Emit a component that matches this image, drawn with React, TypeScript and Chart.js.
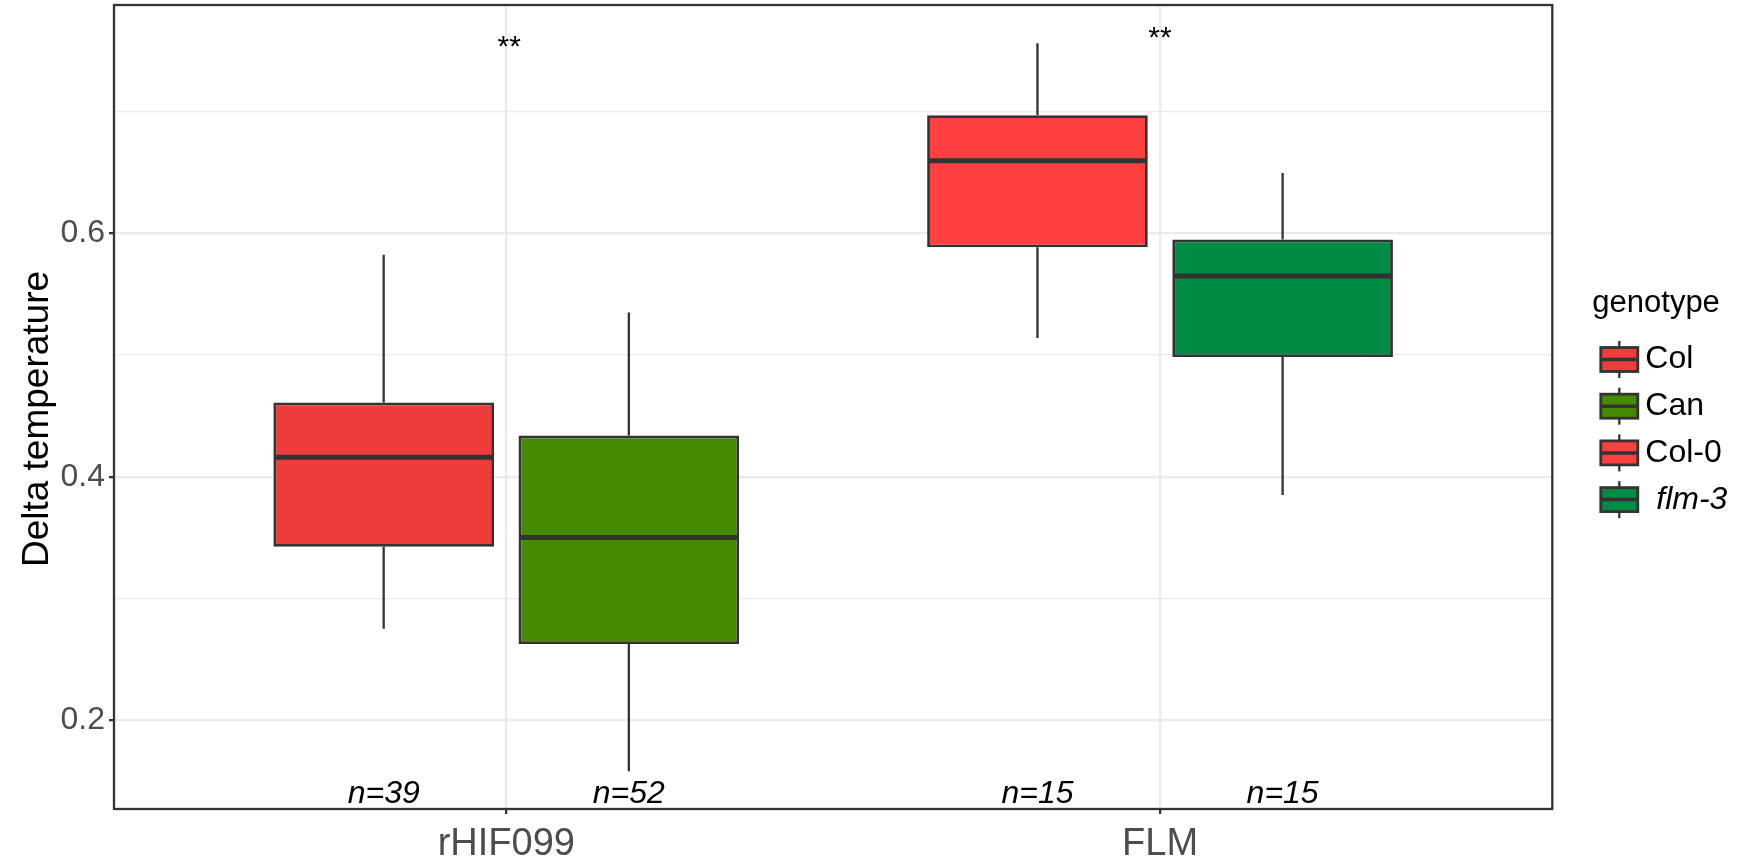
import React, { useEffect, useRef } from 'react';
import { Chart, registerables } from 'chart.js';

Chart.register(...registerables);

// ---- data ----
const categories = ['rHIF099', 'FLM'];
const genotypes = ['Col', 'Can', 'Col-0', 'flm-3'];
const genotypeItalic = [false, false, false, true];
const genotypeColors = ['#EE3B3B', '#458B00', '#FF4040', '#008B45'];
const genotypeCategory = [0, 0, 1, 1];
const dodgeSlot = [-1, 1, -1, 1];
const whiskerLow = [0.275, 0.158, 0.514, 0.385];
const lowerQuartile = [0.3425, 0.2625, 0.5886, 0.4984];
const medianValues = [0.416, 0.35, 0.6597, 0.565];
const upperQuartile = [0.461, 0.4338, 0.697, 0.595];
const whiskerHigh = [0.5823, 0.5349, 0.7562, 0.6496];
const sampleSizes = [39, 52, 15, 15];
const significanceLabels = ['**', '**'];
const significanceY = [0.758, 0.765];
const yMajorTicks = [0.2, 0.4, 0.6];
const yMinorTicks = [0.3, 0.5, 0.7];
const yRange = [0.127, 0.7876];
const xRange = [0.4, 2.6];
const yTitle = 'Delta temperature';
const legendTitle = 'genotype';

// ---- style ----
const FONT = '"Liberation Sans", Arial, Helvetica, sans-serif';
const INK = '#333333';
const GRID = '#EBEBEB';
const TICK_TEXT = '#4D4D4D';
const LINE_W = 2.3;
const DODGE_OFFSET = 0.1875;

const boxX = (i: number) => genotypeCategory[i] + 1 + dodgeSlot[i] * DODGE_OFFSET;
const isMajorY = (v: number) => yMajorTicks.some((t) => Math.abs(t - v) < 1e-6);

const boxplotPlugin = {
  id: 'boxplotExtras',
  beforeDraw(chart: any) {
    const { ctx, width, height } = chart;
    ctx.save();
    ctx.fillStyle = '#ffffff';
    ctx.fillRect(0, 0, width, height);
    ctx.restore();
  },
  beforeDatasetsDraw(chart: any) {
    const { ctx } = chart;
    const xs = chart.scales.x;
    const ys = chart.scales.y;
    ctx.save();
    ctx.strokeStyle = INK;
    ctx.lineWidth = LINE_W;
    ctx.lineCap = 'butt';
    genotypes.forEach((_, i) => {
      const px = xs.getPixelForValue(boxX(i));
      ctx.beginPath();
      ctx.moveTo(px, ys.getPixelForValue(whiskerHigh[i]));
      ctx.lineTo(px, ys.getPixelForValue(upperQuartile[i]));
      ctx.moveTo(px, ys.getPixelForValue(lowerQuartile[i]));
      ctx.lineTo(px, ys.getPixelForValue(whiskerLow[i]));
      ctx.stroke();
    });
    ctx.restore();
  },
  afterDatasetsDraw(chart: any) {
    const { ctx, chartArea } = chart;
    const xs = chart.scales.x;
    const ys = chart.scales.y;
    ctx.save();
    // medians across each box
    genotypes.forEach((_, i) => {
      const el = chart.getDatasetMeta(i).data[0];
      const half = el.width / 2;
      const py = ys.getPixelForValue(medianValues[i]);
      ctx.strokeStyle = INK;
      ctx.lineWidth = 5;
      ctx.beginPath();
      ctx.moveTo(el.x - half + 1, py);
      ctx.lineTo(el.x + half - 1, py);
      ctx.stroke();
    });
    // sample sizes along the bottom of the panel
    ctx.fillStyle = '#000000';
    ctx.font = `italic 32px ${FONT}`;
    ctx.textAlign = 'center';
    ctx.textBaseline = 'alphabetic';
    genotypes.forEach((_, i) => {
      ctx.fillText(`n=${sampleSizes[i]}`, xs.getPixelForValue(boxX(i)), chartArea.bottom - 6);
    });
    // significance marks above each group
    ctx.font = `30px ${FONT}`;
    categories.forEach((_, c) => {
      const m = ctx.measureText(significanceLabels[c]);
      const cy = ys.getPixelForValue(significanceY[c]);
      const base = cy + (m.actualBoundingBoxAscent - m.actualBoundingBoxDescent) / 2;
      ctx.fillText(significanceLabels[c], xs.getPixelForValue(c + 1) + (c === 0 ? 3 : 0), base);
    });
    // panel border
    ctx.strokeStyle = INK;
    ctx.lineWidth = LINE_W;
    ctx.strokeRect(chartArea.left, chartArea.top, chartArea.right - chartArea.left, chartArea.bottom - chartArea.top);
    ctx.restore();
  },
  afterDraw(chart: any) {
    const { ctx, chartArea } = chart;
    ctx.save();
    // y-axis title
    ctx.translate(chartArea.left - 66, (chartArea.top + chartArea.bottom) / 2 + 12);
    ctx.rotate(-Math.PI / 2);
    ctx.fillStyle = '#000000';
    ctx.font = `37px ${FONT}`;
    ctx.textAlign = 'center';
    ctx.textBaseline = 'alphabetic';
    ctx.fillText(yTitle, 0, 0);
    ctx.restore();

    // legend
    ctx.save();
    const left = chartArea.right;
    ctx.fillStyle = '#000000';
    ctx.font = `31px ${FONT}`;
    ctx.textAlign = 'left';
    ctx.textBaseline = 'alphabetic';
    ctx.fillText(legendTitle, left + 40, 311.7);
    const keyX = left + 67;
    const keyW = 37;
    const keyH = 24;
    genotypes.forEach((g, i) => {
      const cy = 359.5 + i * 46.7;
      ctx.strokeStyle = INK;
      ctx.lineWidth = LINE_W;
      ctx.beginPath();
      ctx.moveTo(keyX, cy - 18.5);
      ctx.lineTo(keyX, cy + 18.5);
      ctx.stroke();
      ctx.fillStyle = genotypeColors[i];
      ctx.fillRect(keyX - keyW / 2, cy - keyH / 2, keyW, keyH);
      ctx.lineWidth = 2.8;
      ctx.strokeRect(keyX - keyW / 2, cy - keyH / 2, keyW, keyH);
      ctx.lineWidth = 3.5;
      ctx.beginPath();
      ctx.moveTo(keyX - keyW / 2, cy);
      ctx.lineTo(keyX + keyW / 2, cy);
      ctx.stroke();
      ctx.fillStyle = '#000000';
      ctx.font = `${genotypeItalic[i] ? 'italic ' : ''}32px ${FONT}`;
      ctx.textBaseline = 'middle';
      ctx.fillText(g, left + (genotypeItalic[i] ? 104 : 93), cy);
    });
    ctx.restore();
  },
};

export default function App() {
  const canvasRef = useRef<HTMLCanvasElement>(null);

  useEffect(() => {
    const canvas = canvasRef.current;
    if (!canvas) return;
    const chart = new Chart(canvas, {
      type: 'bar',
      data: {
        datasets: genotypes.map((g, i) => ({
          label: g,
          data: [{ x: boxX(i), y: [lowerQuartile[i], upperQuartile[i]] }],
          backgroundColor: genotypeColors[i],
          borderColor: INK,
          borderWidth: 2.8,
          borderSkipped: false,
          grouped: false,
          categoryPercentage: 1,
          barPercentage: 0.9,
        })),
      } as any,
      options: {
        responsive: false,
        maintainAspectRatio: false,
        devicePixelRatio: 1,
        animation: false,
        events: [],
        layout: { padding: { left: 0, top: 5, right: 185.7, bottom: 0 } },
        plugins: {
          legend: { display: false },
          tooltip: { enabled: false },
          title: { display: false },
        },
        scales: {
          x: {
            type: 'linear',
            min: xRange[0],
            max: xRange[1],
            bounds: 'data',
            offset: false,
            border: { display: false },
            grid: {
              offset: false,
              color: GRID,
              lineWidth: LINE_W,
              drawTicks: true,
              tickLength: 5,
              tickColor: INK,
              tickWidth: LINE_W,
            },
            ticks: {
              autoSkip: false,
              maxRotation: 0,
              padding: 8,
              color: TICK_TEXT,
              font: { family: FONT, size: 38 },
              callback: (v: any) => categories[Math.round(Number(v)) - 1] ?? '',
            },
            afterBuildTicks: (scale: any) => {
              scale.ticks = categories.map((_, c) => ({ value: c + 1 }));
            },
            afterFit: (scale: any) => {
              scale.height = 58;
              scale.paddingLeft = 0;
              scale.paddingRight = 0;
            },
          },
          y: {
            type: 'linear',
            min: yRange[0],
            max: yRange[1],
            bounds: 'data',
            border: { display: false },
            grid: {
              color: GRID,
              lineWidth: (c: any) => (c.tick && isMajorY(c.tick.value) ? LINE_W : 1.2),
              drawTicks: true,
              tickLength: 5,
              tickColor: (c: any) => (c.tick && isMajorY(c.tick.value) ? INK : 'rgba(0,0,0,0)'),
              tickWidth: LINE_W,
            },
            ticks: {
              padding: 4,
              color: TICK_TEXT,
              font: { family: FONT, size: 32 },
              callback: (v: any) => (isMajorY(Number(v)) ? Number(v).toFixed(1) : ''),
            },
            afterBuildTicks: (scale: any) => {
              scale.ticks = [...yMajorTicks, ...yMinorTicks]
                .sort((a, b) => a - b)
                .map((value) => ({ value }));
            },
            afterFit: (scale: any) => {
              scale.width = 114;
              scale.paddingTop = 0;
              scale.paddingBottom = 0;
            },
          },
        },
      } as any,
      plugins: [boxplotPlugin],
    });
    return () => chart.destroy();
  }, []);

  return (
    <div style={{ position: 'fixed', left: 0, top: 0, width: 1738, height: 867, background: '#ffffff' }}>
      <canvas ref={canvasRef} width={1738} height={867} style={{ display: 'block', width: 1738, height: 867 }} />
    </div>
  );
}
